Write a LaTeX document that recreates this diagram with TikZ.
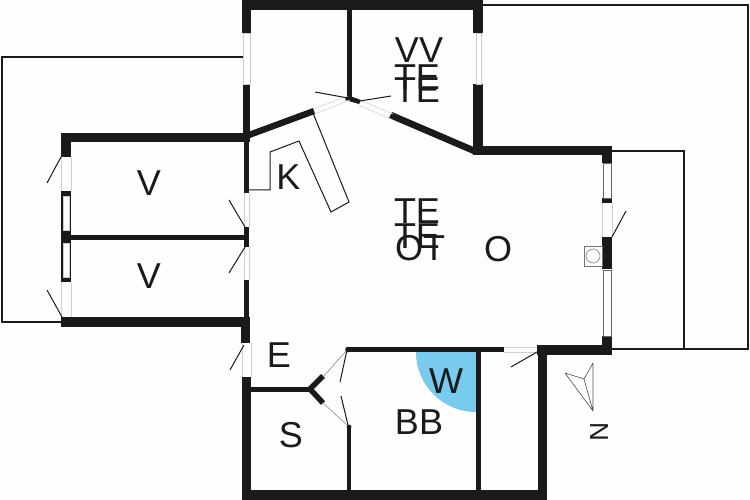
\documentclass[tikz,border=0pt]{standalone}
\usepackage{fontspec}
\setmainfont{Liberation Sans}
\definecolor{ink}{HTML}{1A1A1A}
\definecolor{paper}{HTML}{FEFEFC}
\definecolor{wetblue}{HTML}{78CAEF}
\tikzset{
  x=1pt,y=-1pt,
  wall/.style={fill=ink,draw=none},
  thin line/.style={draw=ink,line width=2.2pt},
  door/.style={draw=ink,line width=1pt},
  pale/.style={draw=black!18,line width=.6pt},
  pane/.style={fill=white,draw=black!20,line width=.5pt},
  dark pane/.style={fill=white,draw=black!60,line width=.9pt},
  roomlabel/.style={font=\fontsize{36}{36}\selectfont,text=ink,inner sep=0pt,anchor=center},
}
\begin{document}
\begin{tikzpicture}
\fill[paper] (0,0) rectangle (750,500);
\useasboundingbox (0,0) rectangle (750,500);
% outer thin outlines
\draw[thin line] (243,57) -- (2,57) -- (2,322) -- (62,322);
\draw[thin line] (483,5) -- (748,5) -- (748,349) -- (612,349);
\draw[thin line] (612,151) -- (684,151) -- (684,349);
% wet room
\fill[wetblue] (476,352) -- (416,352) arc[start angle=180,end angle=90,radius=60,y=-1pt] -- cycle;
% walls - top block
\fill[wall] (242,0) rectangle (483,10);
\fill[wall] (242,0) rectangle (251,33);
\fill[wall] (243,84) rectangle (250,137);
\fill[wall] (473,0) rectangle (483,33);
\fill[wall] (473,84) rectangle (483,155);
\fill[wall] (347,10) rectangle (352,97);
\fill[wall] (473,146) rectangle (612,155);
\fill[wall] (248,132) -- (313,108) -- (315,114) -- (250,138) -- cycle;
\fill[wall] (392,112) -- (476,148) -- (473,154) -- (389,118) -- cycle;
\fill[wall] (347,95) -- (361,100) -- (359,104) -- (345,100) -- cycle;
\fill[pane] (243,33) rectangle (250,84);
\fill[pane] (476,33) rectangle (481,84);
% left rooms
\fill[wall] (61,133) rectangle (250,142);
\fill[wall] (61,133) rectangle (71,157);
\fill[wall] (61,191) rectangle (71,282);
\fill[pane] (63,196) rectangle (69,230);
\fill[pane] (63,243) rectangle (69,277);
\fill[wall] (71,235) rectangle (245,240);
\fill[wall] (61,317) rectangle (250,327);
\fill[wall] (241,317) rectangle (250,343);
\fill[wall] (244,142) rectangle (249,193);
\fill[wall] (244,227) rectangle (249,247);
\fill[wall] (244,280) rectangle (249,317);
\fill[wall] (242,377) rectangle (251,500);
\fill[wall] (242,490) rectangle (547,500);
\fill[wall] (250,387) rectangle (310,392);
\fill[wall] (347,427) rectangle (351,490);
\fill[wall] (349,427) circle[radius=2.4];
\fill[wall] (476,352) rectangle (481,490);
\fill[wall] (347,347) rectangle (504,352);
\fill[wall] (348,349.5) circle[radius=2.8];
\fill[wall] (537,345) rectangle (612,355);
\fill[wall] (538,345) rectangle (547,500);
% east wall
\fill[wall] (602,146) rectangle (612,163);
\fill[wall] (602,198) rectangle (612,203);
\fill[wall] (602,237) rectangle (612,269);
\fill[wall] (602,336) rectangle (612,355);
\fill[dark pane] (603,163) rectangle (611,198);
\fill[dark pane] (603,270) rectangle (611,336);
% chevron
\draw[ink,line width=5.5pt,miter limit=10] (323,376) -- (310,389) -- (323,403);
% openings
\draw[pale] (313,109) -- (348,96) (315,114) -- (350,100);
\draw[pale] (360,100) -- (393,114) (358,105) -- (391,119);
\draw[pale] (504,347) -- (537,347) (504,352) -- (537,352);
\draw[pale] (244,193) -- (244,227) (249,193) -- (249,227);
\draw[pale] (244,247) -- (244,280) (249,247) -- (249,280);
\draw[pale] (242,343) -- (242,377) (251,343) -- (251,377);
\draw[pale] (61,157) -- (61,191) (71,157) -- (71,191);
\draw[pale] (61,282) -- (61,317) (71,282) -- (71,317);
\draw[pale] (602,203) -- (602,237) (612,203) -- (612,237);
\draw[black!50,line width=.5pt] (323,377) -- (347,350) (323,403) -- (347,425);
% door leaves
\draw[door] (61,157) -- (47,183);
\draw[door] (62,317) -- (47,290);
\draw[door] (245,227) -- (229,200);
\draw[door] (245,247) -- (229,273);
\draw[door] (244,345) -- (230,370);
\draw[door] (348,98) -- (315,92);
\draw[door] (360,101) -- (391,96);
\draw[door] (347,350) -- (340,382);
\draw[door] (341,396) -- (348,425);
\draw[door] (537,352) -- (511,367);
\draw[door] (612,237) -- (626,211);
% kitchen counter
\draw[door] (249,190) -- (270,190) -- (270,152) -- (299,141) -- (331,212) -- (349,202) -- (313,113);
% stove
\draw[black!55,line width=.7pt,fill=paper] (584,246) rectangle (602,266);
\draw[black!45,line width=.7pt] (593,256) circle[radius=7];
% north arrow
\draw[black!70,line width=.6pt,line join=round] (593,411) -- (565,373) -- (584,379) -- (593,363) -- (593,411) -- (584,379);
% labels
\node[roomlabel] (v1) at (149,183) {V};
\node[roomlabel] (v2) at (149,276) {V};
\node[roomlabel] (k) at (288.5,177) {K};
\node[roomlabel] (vv) at (419,50) {VV};
\node[roomlabel] (te1) at (417,77) {TE};
\node[roomlabel] (te2) at (417,90) {TE};
\node[roomlabel] (te3) at (417,211) {TE};
\node[roomlabel] (te4) at (417,236) {TE};
\node[roomlabel] (ot) at (420,248) {OT};
\node[roomlabel] (o) at (498,249) {O};
\node[roomlabel] (e) at (279,355) {E};
\node[roomlabel] (w) at (446,381) {W};
\node[roomlabel] (bb) at (419,422) {BB};
\node[roomlabel] (s) at (291,435) {S};
\node[roomlabel,font=\fontsize{26}{26}\selectfont,rotate=-90] (n) at (599,432) {N};
\end{tikzpicture}
\end{document}
